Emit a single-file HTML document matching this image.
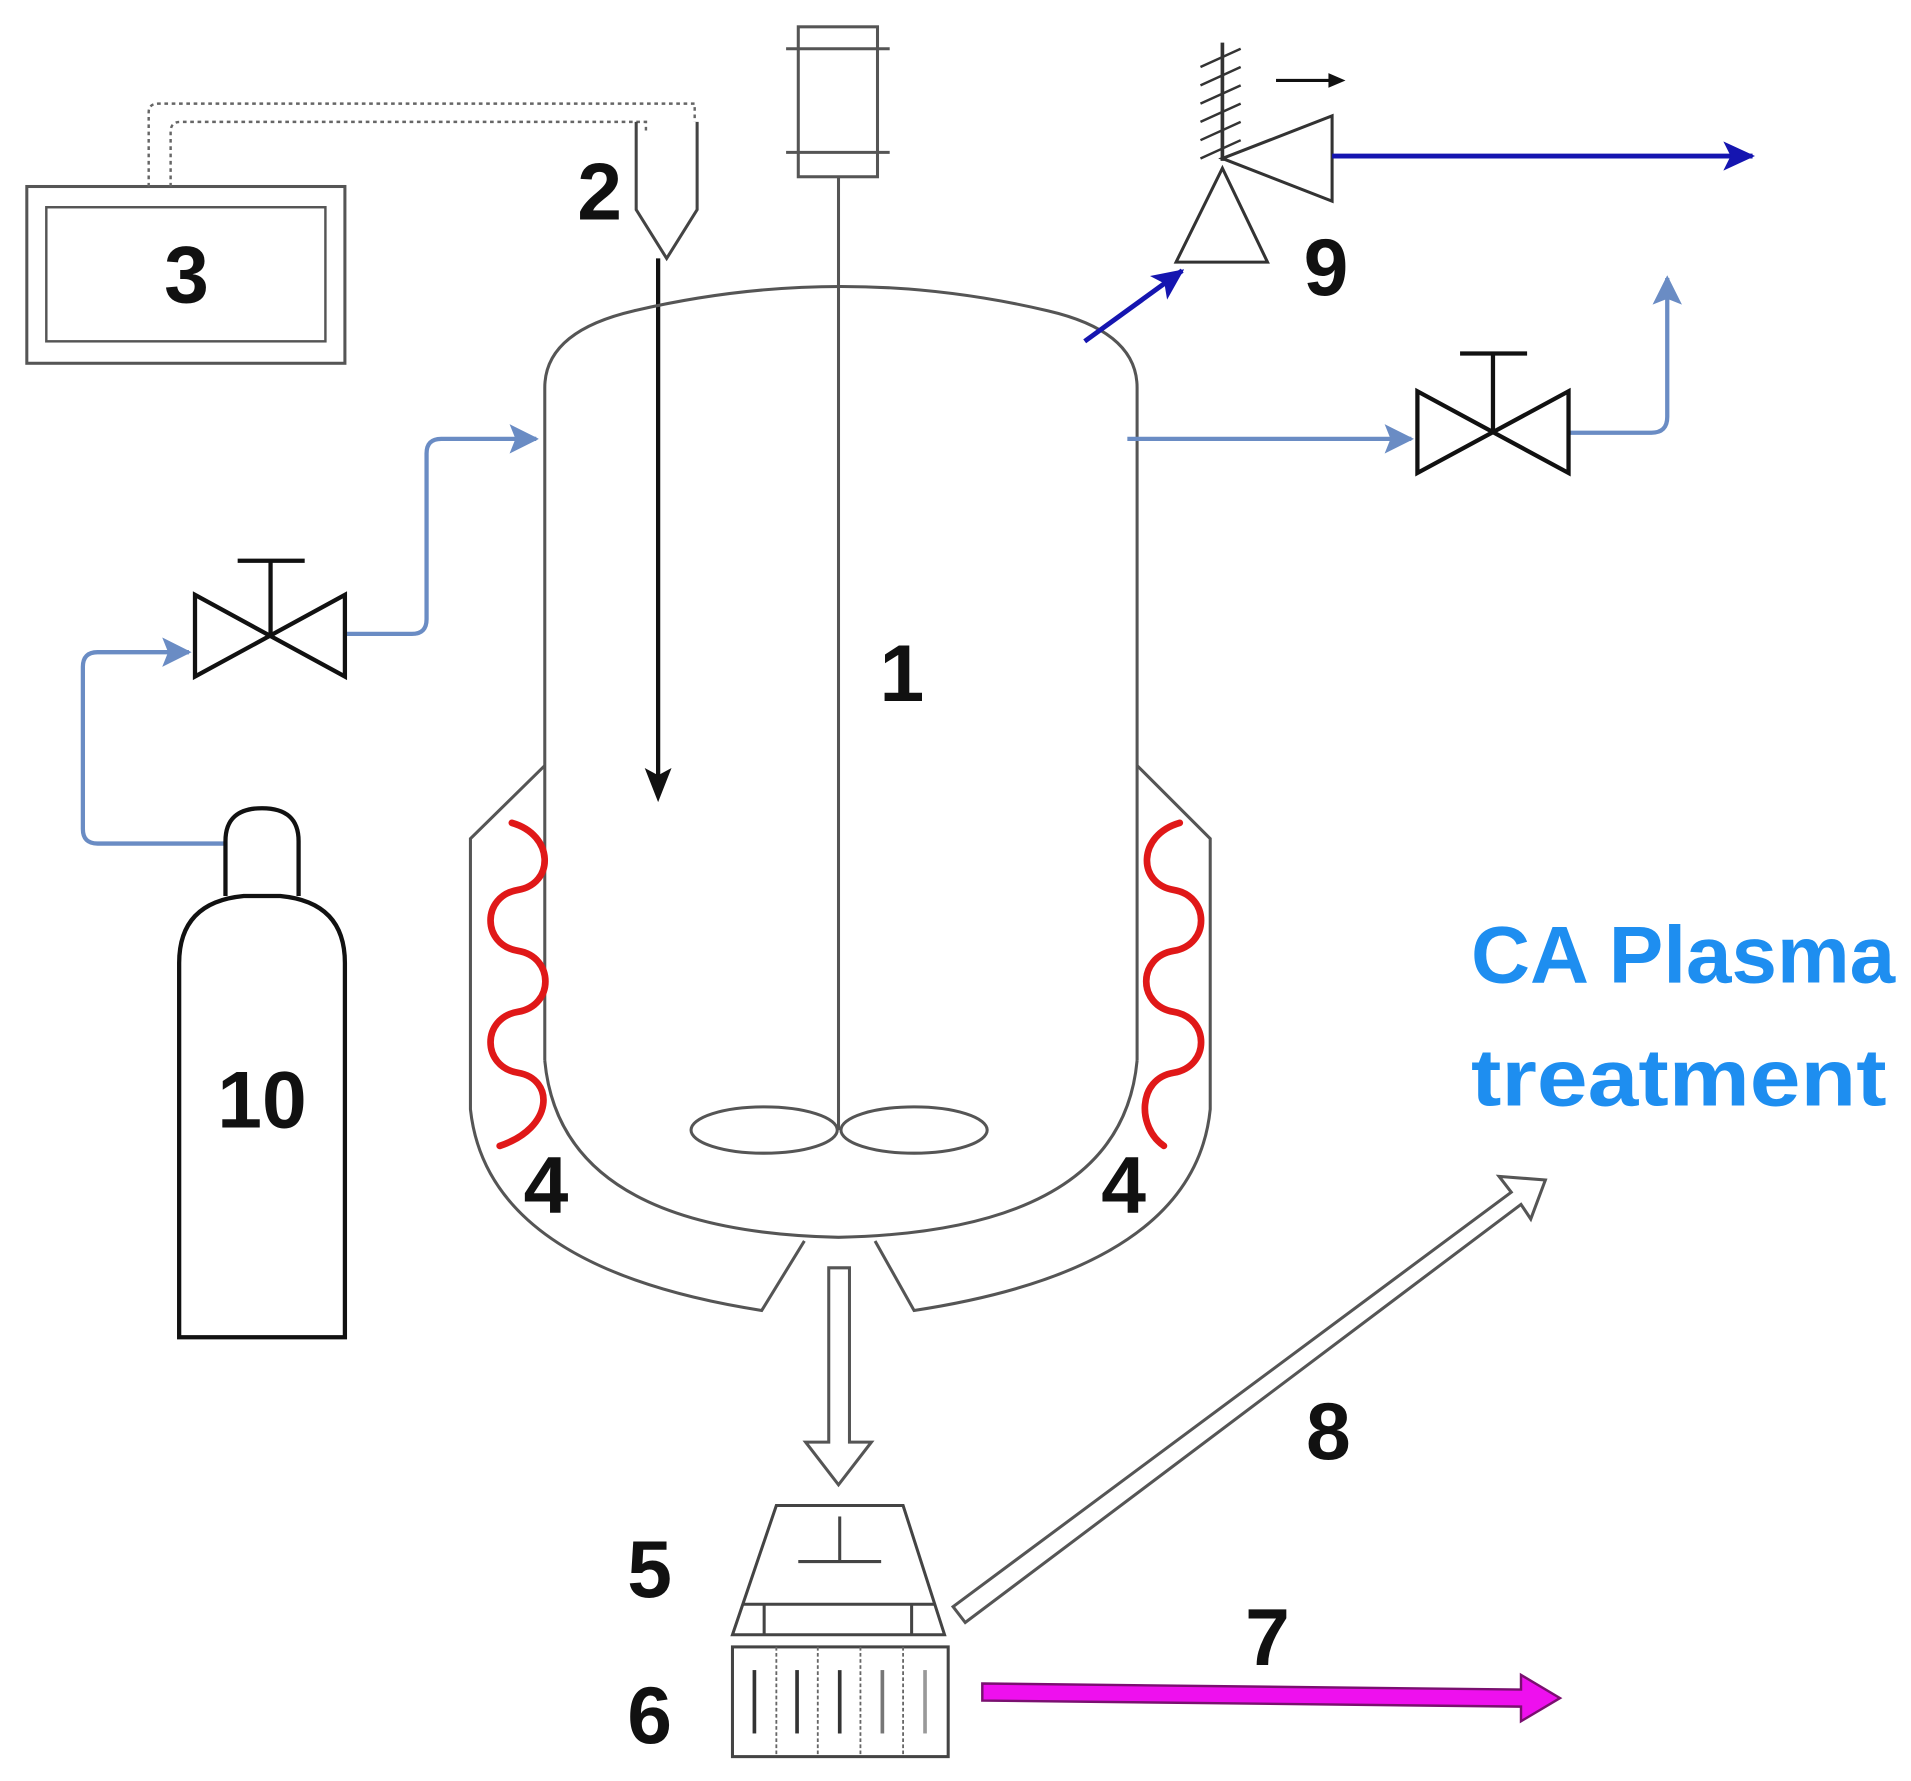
<!DOCTYPE html>
<html><head><meta charset="utf-8"><style>html,body{margin:0;padding:0;background:#fff}svg{display:block}</style></head>
<body>
<svg width="1911" height="1781" viewBox="0 0 1568 1461" preserveAspectRatio="none" xmlns="http://www.w3.org/2000/svg" font-family="Liberation Sans, sans-serif">
<defs>
<marker id="ab2" markerWidth="24" markerHeight="24" refX="22" refY="12" orient="auto" markerUnits="userSpaceOnUse"><path d="M2,2 L22,12 L2,22 L6,12Z" fill="#6a8cc4" stroke="#6a8cc4" stroke-width="2"/></marker>
<marker id="db" markerWidth="26" markerHeight="24" refX="24" refY="12" orient="auto" markerUnits="userSpaceOnUse"><path d="M0,0 L26,12 L0,24 L6,12Z" fill="#1515b0"/></marker>
</defs>
<g fill="none" stroke="#555" stroke-width="2.5">
<rect x="22" y="153" width="261" height="145"/>
<rect x="38" y="170" width="229" height="110" stroke-width="2"/>
</g>
<g fill="none" stroke="#666" stroke-width="2" stroke-dasharray="3,3">
<path d="M122,153 V92 Q122,85 130,85 H570 V100"/>
<path d="M140,153 V108 Q140,100 148,100 H530 V110"/>
</g>
<g fill="none" stroke="#444" stroke-width="2.5">
<path d="M522,100 V172 L547,212 L572,172 V100"/>
</g>
<line x1="540" y1="212" x2="540" y2="640" stroke="#111" stroke-width="3.5"/>
<path d="M529,630 L540,658 L551,630 L540,636Z" fill="#111"/>
<g fill="none" stroke="#555" stroke-width="2.5">
<rect x="655" y="22" width="65" height="123"/>
<line x1="645" y1="40" x2="730" y2="40"/>
<line x1="645" y1="125" x2="730" y2="125"/>
<line x1="688" y1="145" x2="688" y2="927"/>
<ellipse cx="627" cy="927" rx="60" ry="19"/>
<ellipse cx="750" cy="927" rx="60" ry="19"/>
<path d="M447,870 V318 Q447,272 520,255 Q690,215 860,255 Q933,272 933,318 V870"/>
<path d="M447,870 Q460,1010 688,1015 Q920,1010 933,870"/>
<path d="M447,628 L386,688 V910 Q400,1040 625,1075 L660,1018"/>
<path d="M933,628 L993,688 V910 Q980,1040 750,1075 L718,1018"/>
</g>
<g fill="none" stroke="#e01818" stroke-width="5.5" stroke-linecap="round">
<path d="M420,675 C455,685 455,725 425,730 C395,735 395,775 425,780 C455,785 455,825 425,830 C395,835 395,875 425,880 C455,885 455,925 410,940"/>
<path d="M968,675 C933,685 933,725 963,730 C993,735 993,775 963,780 C933,785 933,825 963,830 C993,835 993,875 963,880 C933,885 933,925 955,940"/>
</g>
<g fill="none" stroke="#6a8cc4" stroke-width="3.5">
<path d="M185,692 H80 Q68,692 68,680 V547 Q68,535 80,535 H155" marker-end="url(#ab2)"/>
<path d="M283,520 H338 Q350,520 350,508 V372 Q350,360 362,360 H440" marker-end="url(#ab2)"/>
<path d="M925,360 H1158" marker-end="url(#ab2)"/>
<path d="M1287,355 H1355 Q1368,355 1368,342 V228" marker-end="url(#ab2)"/>
</g>
<g fill="none" stroke="#111" stroke-width="3.5">
<path d="M160,488 V555 L283,488 V555 Z"/>
<path d="M222,520 V460 M195,460 H250"/>
<path d="M1163,321 V388 L1287,321 V388 Z"/>
<path d="M1225,355 V290 M1198,290 H1253"/>
</g>
<line x1="890" y1="280" x2="970" y2="222" stroke="#1515b0" stroke-width="4" marker-end="url(#db)"/>
<g fill="none" stroke="#333" stroke-width="2.5">
<path d="M965,215 H1040 L1003,138 Z"/>
<path d="M1003,130 L1093,95 V165 Z"/>
<line x1="1003" y1="35" x2="1003" y2="132" stroke-width="3"/>
<path d="M985,55 L1018,40 M985,70 L1018,55 M985,85 L1018,70 M985,100 L1018,85 M985,115 L1018,100 M985,130 L1018,115" stroke-width="2"/>
<line x1="1047" y1="66" x2="1092" y2="66" stroke="#111" stroke-width="2.5"/>
<path d="M1090,60 L1104,66 L1090,72Z" fill="#111" stroke="none"/>
</g>
<line x1="1093" y1="128" x2="1438" y2="128" stroke="#1515b0" stroke-width="4" marker-end="url(#db)"/>
<g fill="none" stroke="#111" stroke-width="3.5">
<path d="M185,735 V690 Q185,663 215,663 Q245,663 245,690 V735"/>
<path d="M147,1097 V790 Q147,740 200,735 H230 Q283,740 283,790 V1097 Z"/>
</g>
<path d="M680,1040 H697 V1183 H715 L688,1218 L661,1183 H680 Z" fill="#fff" stroke="#555" stroke-width="2.5"/>
<g fill="none" stroke="#444" stroke-width="2.5">
<path d="M637,1235 H741 L775,1341 H601 Z"/>
<line x1="609" y1="1316" x2="767" y2="1316"/>
<line x1="627" y1="1316" x2="627" y2="1341"/>
<line x1="748" y1="1316" x2="748" y2="1341"/>
<line x1="655" y1="1281" x2="723" y2="1281"/>
<line x1="689" y1="1244" x2="689" y2="1281"/>
<rect x="601" y="1351" width="177" height="90"/>
</g>
<g stroke="#666" stroke-width="1.5" stroke-dasharray="3,2">
<line x1="637" y1="1351" x2="637" y2="1441"/><line x1="671" y1="1351" x2="671" y2="1441"/>
<line x1="706" y1="1351" x2="706" y2="1441"/><line x1="741" y1="1351" x2="741" y2="1441"/>
</g>
<g stroke="#333" stroke-width="3">
<line x1="619" y1="1370" x2="619" y2="1422"/><line x1="654" y1="1370" x2="654" y2="1422"/>
<line x1="689" y1="1370" x2="689" y2="1422"/><line x1="724" y1="1370" x2="724" y2="1422" stroke="#777"/>
<line x1="759" y1="1370" x2="759" y2="1422" stroke="#999"/>
</g>
<path d="M782,1318 L1240,978 L1230,965 L1268,968 L1256,1000 L1248,988 L792,1331 Z" fill="#fff" stroke="#555" stroke-width="2.5"/>
<path d="M806,1381 L1248,1386 V1374 L1280,1393 L1248,1412 V1400 L806,1395 Z" fill="#ee10ee" stroke="#7a1070" stroke-width="2"/>
<g font-weight="bold" fill="#111" font-size="66" text-anchor="middle">
<text x="153" y="248">3</text>
<text x="492" y="180">2</text>
<text x="740" y="575">1</text>
<text x="1088" y="242">9</text>
<text x="448" y="995">4</text>
<text x="922" y="995">4</text>
<text x="215" y="925">10</text>
<text x="1090" y="1197">8</text>
<text x="1040" y="1366">7</text>
<text x="533" y="1310">5</text>
<text x="533" y="1430">6</text>
</g>
<g font-weight="bold" fill="#1e8ef0" font-size="66">
<text x="1207" y="806" textLength="348" lengthAdjust="spacingAndGlyphs">CA Plasma</text>
<text x="1207" y="907" textLength="341" lengthAdjust="spacingAndGlyphs">treatment</text>
</g>
</svg>
</body></html>
